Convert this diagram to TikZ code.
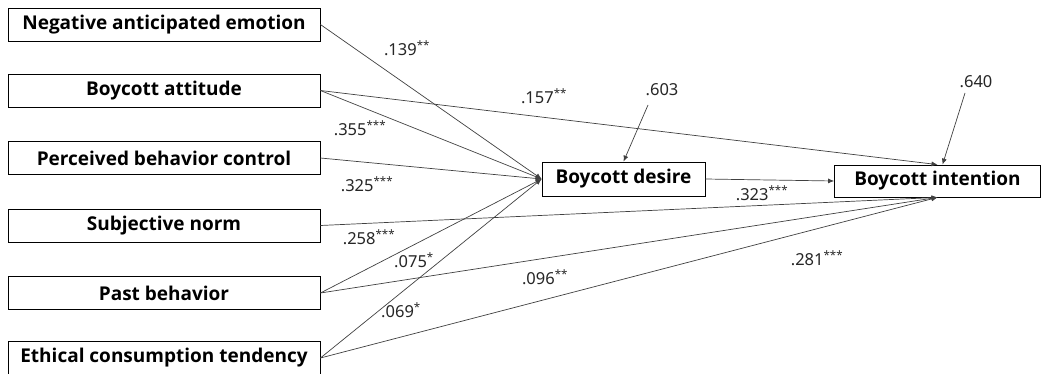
\documentclass[tikz,border=0pt]{standalone}
\usepackage{fontspec}
\setmainfont{Noto Sans}
\newfontfamily\boxfont{Open Sans}[UprightFont=* Bold]
\usetikzlibrary{arrows.meta,calc}
\begin{document}
\begin{tikzpicture}[x=1pt,y=-1pt,
  box/.style={draw=black,line width=0.8pt,fill=white,minimum height=33pt,inner sep=0pt,font=\boxfont\fontsize{19}{21}\selectfont},
  lbox/.style={box,minimum width=312pt},
  path/.style={draw=black!75,line width=0.7pt},
  arr/.style={path,-{Latex[length=6pt,width=5pt]}},
  coef/.style={font=\fontsize{16.5}{18}\selectfont,text=black!85,inner sep=0pt}]
\useasboundingbox (0,0) rectangle (1041,374);
\node[lbox] (nae) at (164,24.5) {Negative anticipated emotion};
\node[lbox] (ba) at (164,90.5) {Boycott attitude};
\node[lbox] (pbc) at (164,158) {Perceived behavior control};
\node[lbox] (sn) at (164,225.5) {Subjective norm};
\node[lbox] (pb) at (164,293) {Past behavior};
\node[lbox] (ect) at (164,358) {Ethical consumption tendency};
\node[box,minimum width=163pt,minimum height=34pt] (des) at (623.5,179) {Boycott desire};
\node[box,minimum width=206pt,minimum height=32pt] (int) at (937.5,181) {Boycott intention};
% error terms
\node[coef] (e1) at (662,90) {.603};
\node[coef] (e2) at (976,82) {.640};
\coordinate (e1s) at (648,105);
\coordinate (e2s) at (965,93);
\draw[arr] (e1s) -- (des.north);
\draw[arr] (e2s) -- ($(int.north)+(5,0)$);
% paths to desire
\draw[arr] (nae.east) -- (des.west);
\draw[arr] (ba.east) -- (des.west);
\draw[arr] (pbc.east) -- (des.west);
\draw[arr] (pb.east) -- (des.west);
\draw[arr] (ect.east) -- (des.west);
% paths to intention
\draw[arr] (ba.east) -- (int.north);
\draw[arr] (des.east) -- (int.west);
\draw[arr] (sn.east) -- (int.south);
\draw[arr] (pb.east) -- (int.south);
\draw[arr] (ect.east) -- (int.south);
% coefficients
\node[coef] (c1) at (407,48) {.139\textsuperscript{**}};
\node[coef] (c2) at (544,96) {.157\textsuperscript{**}};
\node[coef] (c3) at (360,128) {.355\textsuperscript{***}};
\node[coef] (c4) at (367,184) {.325\textsuperscript{***}};
\node[coef] (c5) at (762,193) {.323\textsuperscript{***}};
\node[coef] (c6) at (369,237) {.258\textsuperscript{***}};
\node[coef] (c7) at (414,260) {.075\textsuperscript{*}};
\node[coef] (c8) at (545,277) {.096\textsuperscript{**}};
\node[coef] (c9) at (401,310) {.069\textsuperscript{*}};
\node[coef] (c10) at (817,258) {.281\textsuperscript{***}};
\end{tikzpicture}
\end{document}
